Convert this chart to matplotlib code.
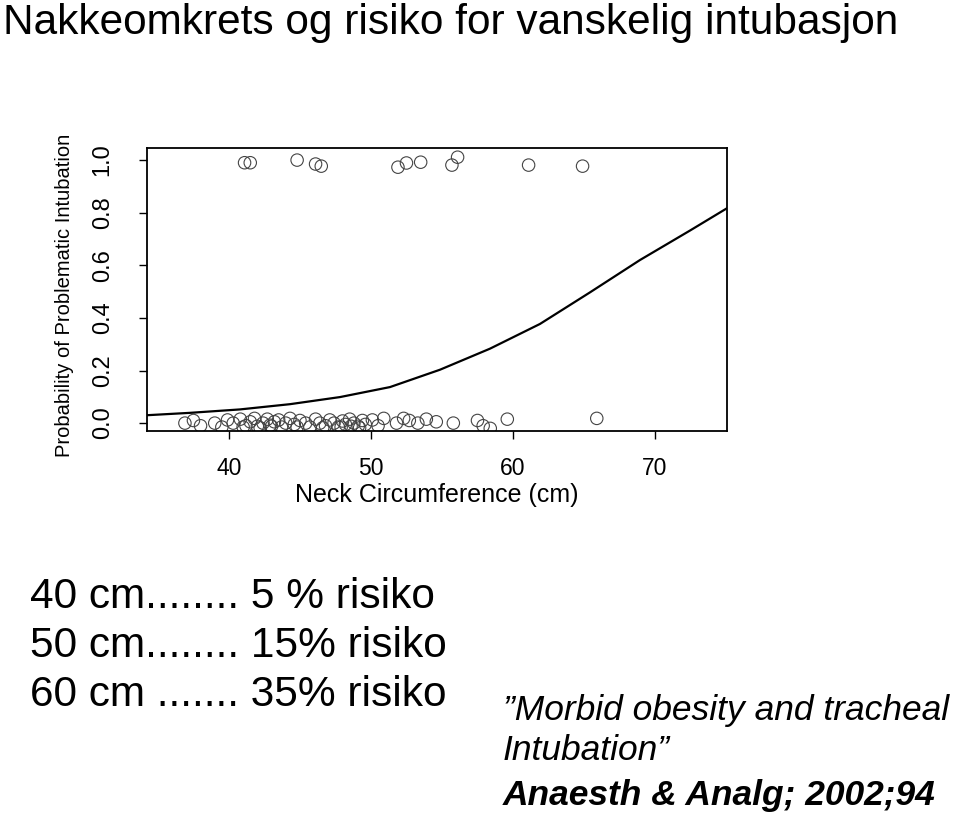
import numpy as np
import matplotlib.pyplot as plt

plt.rcParams['font.family'] = ['Liberation Sans', 'DejaVu Sans']

# patients with problematic intubation (y ~ 1, jittered)
top_x = [41.1, 41.5, 44.8, 46.1, 46.5, 51.9, 52.5, 53.5, 55.7, 56.1, 61.1, 64.9]
top_y = [0.99, 0.99, 1.00, 0.985, 0.977, 0.973, 0.989, 0.992, 0.981, 1.011, 0.981, 0.977]

# patients without problems (y ~ 0, jittered)
bot_x = [36.9, 37.5, 38.0, 39.0, 39.5, 39.9, 40.3, 40.8, 41.2, 41.5, 41.8, 42.0,
         42.4, 42.7, 42.9, 43.2, 43.5, 43.7, 44.0, 44.3, 44.6, 45.0, 45.4, 45.7,
         46.1, 46.4, 46.8, 47.1, 47.4, 47.7, 48.0, 48.2, 48.5, 48.8, 49.1, 49.4,
         49.6, 50.1, 50.5, 50.9, 51.8, 52.3, 52.7, 53.3, 53.9, 54.6, 55.8, 57.5,
         57.9, 58.4, 59.6, 65.9,
         41.0, 42.2, 43.0, 44.8, 46.6, 47.9, 48.6, 49.2]
bot_y = [0.0, 0.01, -0.01, 0.0, -0.015, 0.012, 0.0, 0.015, -0.01, 0.005, 0.018, -0.012,
         0.0, 0.015, -0.008, 0.005, 0.012, -0.015, 0.0, 0.018, -0.005, 0.01, 0.0, -0.015,
         0.015, 0.0, -0.01, 0.012, 0.0, -0.015, 0.008, -0.005, 0.015, 0.0, -0.012, 0.01,
         -0.005, 0.012, -0.01, 0.018, 0.0, 0.018, 0.01, 0.0, 0.015, 0.005, 0.0, 0.01,
         -0.01, -0.02, 0.015, 0.018,
         -0.015, -0.018, -0.012, -0.015, -0.018, -0.015, -0.012, -0.018]

# fitted logistic curve
curve_x = [34.23, 37.25, 40.77, 44.30, 47.82, 51.34, 54.86, 58.38, 61.90, 65.42, 68.94, 72.46, 75.07]
curve_y = [0.030, 0.039, 0.052, 0.072, 0.099, 0.137, 0.203, 0.283, 0.377, 0.497, 0.620, 0.732, 0.817]

xticks = [40, 50, 60, 70]
yticks = [0.0, 0.2, 0.4, 0.6, 0.8, 1.0]

fig = plt.figure(figsize=(9.6, 8.13), dpi=100)
W, H = 960, 813

ax = fig.add_axes([147 / W, 1 - 431 / H, 580 / W, 283 / H])
ax.plot(curve_x, curve_y, color='black', lw=1.6)
ax.scatter(top_x, top_y, s=80, facecolors='none', edgecolors='#444444', linewidths=0.8)
ax.scatter(bot_x, bot_y, s=80, facecolors='none', edgecolors='#444444', linewidths=0.8)

ax.set_xlim(34.23, 75.07)
ax.set_ylim(-0.030, 1.046)
ax.set_xticks(xticks)
ax.set_yticks(yticks)
ax.set_yticklabels([f'{v:.1f}' for v in yticks], rotation=90, va='center')
ax.tick_params(axis='x', direction='out', length=6, width=1, pad=13, labelsize=16.5)
ax.tick_params(axis='y', direction='out', length=6, width=1, pad=18, labelsize=17)
for s in ax.spines.values():
    s.set_linewidth(1.3)

ax.set_xlabel('Neck Circumference (cm)', fontsize=18)
ax.xaxis.set_label_coords(0.50, -0.185)
ax.set_ylabel('Probability of Problematic Intubation', fontsize=14.5)
ax.yaxis.set_label_coords(-0.125, 0.48)

fig.text(3 / W, 1 - 23 / H, 'Nakkeomkrets og risiko for vanskelig intubasjon',
         fontsize=30.5, va='center', ha='left')

lines = ['40 cm........ 5 % risiko', '50 cm........ 15% risiko', '60 cm ....... 35% risiko']
for i, t in enumerate(lines):
    fig.text(30 / W, 1 - (597 + 49 * i) / H, t, fontsize=30.5, va='center', ha='left')

fig.text(503 / W, 1 - 710 / H, '\u201dMorbid obesity and tracheal', fontsize=25.5,
         style='italic', va='center', ha='left')
fig.text(503 / W, 1 - 750 / H, 'Intubation\u201d', fontsize=25.5,
         style='italic', va='center', ha='left')
fig.text(503 / W, 1 - 795 / H, 'Anaesth & Analg; 2002;94', fontsize=25.5,
         style='italic', weight='bold', va='center', ha='left')

fig.savefig('out.png', dpi=100)
